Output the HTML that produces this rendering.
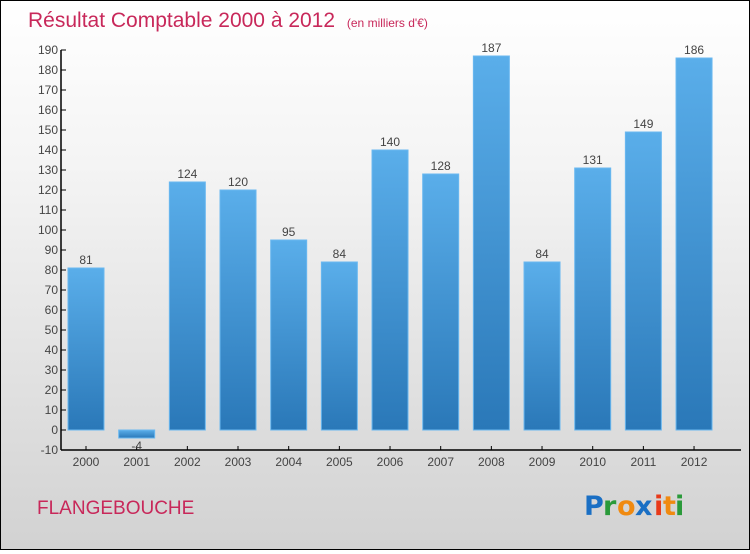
<!DOCTYPE html>
<html><head><meta charset="utf-8"><style>
html,body{margin:0;padding:0}
body{width:750px;height:550px;overflow:hidden;font-family:"Liberation Sans",sans-serif}
#wrap{position:absolute;left:0;top:0;width:748px;height:548px;border:1px solid #000;background:linear-gradient(#ffffff,#f4f4f4 30%,#d2d2d2)}
</style></head><body>
<div id="wrap">
<svg id="chart" width="748" height="548">
<text x="27" y="26" font-size="21" fill="#c8285a">Résultat Comptable 2000 à 2012 <tspan font-size="12" dx="6">(en milliers d'€)</tspan></text>
<text x="36" y="513" font-size="19" fill="#c8285a">FLANGEBOUCHE</text>
<g font-size="27" font-weight="bold" font-family="'DejaVu Sans',sans-serif">
<text x="583" y="514" fill="#1a6fc4">P</text><text x="602" y="514" fill="#2a9a3a">r</text><text x="616" y="514" fill="#f08a10">o</text><text x="634" y="514" fill="#1a6fc4">x</text><text x="653" y="514" fill="#e83a1a">i</text><text x="662" y="514" fill="#f08a10">t</text><text x="674" y="514" fill="#2a9a3a">i</text>
</g>
<defs><linearGradient id="bg" x1="0" y1="0" x2="0" y2="1"><stop offset="0" stop-color="#5aaeea"/><stop offset="1" stop-color="#2a78b8"/></linearGradient></defs>
<g id="plot"></g>
</svg>
</div>
<script>
const categories=["2000","2001","2002","2003","2004","2005","2006","2007","2008","2009","2010","2011","2012"];
const values=[81,-4,124,120,95,84,140,128,187,84,131,149,186];
const yTicks=[-10,0,10,20,30,40,50,60,70,80,90,100,110,120,130,140,150,160,170,180,190];
const NS="http://www.w3.org/2000/svg";
const g=document.getElementById('plot');
const y=v=>429-(v*2);
const x=i=>85+i*50.67;
function mk(t,a,txt){const e=document.createElementNS(NS,t);for(const k in a)e.setAttribute(k,a[k]);if(txt!==undefined)e.textContent=txt;g.appendChild(e);return e;}
let e=mk('line',{x1:60,y1:y(190),x2:60,y2:y(-10),stroke:'#000','stroke-width':1.5});


e=mk('line',{x1:60,y1:y(-10),x2:740,y2:y(-10),stroke:'#000','stroke-width':1.5});


yTicks.forEach(t=>{
 e=mk('line',{x1:60,y1:y(t),x2:65,y2:y(t),stroke:'#000'});
 
 
 e=mk('text',{x:57,y:y(t)+4,'text-anchor':'end','font-size':12,fill:'#444'},t);
 
 
});
categories.forEach((c,i)=>{
 const v=values[i],top=Math.min(y(v),y(0)),h=Math.abs(y(v)-y(0));
 e=mk('rect',{x:x(i)-18,y:top,width:36,height:h,fill:'url(#bg)',stroke:'#6ab8f0','stroke-width':1});
 
 
 e=mk('line',{x1:x(i),y1:y(-10),x2:x(i),y2:y(-10)-4,stroke:'#000'});
 
 
 e=mk('text',{x:x(i),y:y(-10)+16,'text-anchor':'middle','font-size':12,fill:'#444'},c);
 
 
 e=mk('text',{x:x(i),y:v>=0?y(v)-4:y(v)+12,'text-anchor':'middle','font-size':12,fill:'#444'},v);
 
 
});
</script>
</body></html>
